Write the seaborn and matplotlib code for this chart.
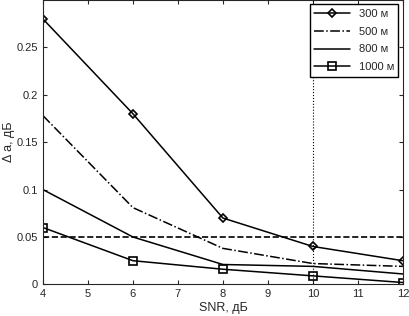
import pandas as pd
import matplotlib
matplotlib.use('Agg')
import matplotlib.pyplot as plt
import seaborn as sns

snr = [4, 6, 8, 10, 12]
d300 = [0.28, 0.18, 0.07, 0.04, 0.025]
d500 = [0.178, 0.081, 0.038, 0.022, 0.019]
d800 = [0.10, 0.05, 0.021, 0.019, 0.011]
d1000 = [0.06, 0.025, 0.016, 0.009, 0.002]
labels = ['300 м', '500 м', '800 м', '1000 м']

sns.set_style('ticks')
plt.rcParams['font.family'] = ['Liberation Sans', 'DejaVu Sans']
plt.rcParams['xtick.direction'] = 'in'
plt.rcParams['ytick.direction'] = 'in'

df = pd.DataFrame({'snr': snr * 4,
                   'val': d300 + d500 + d800 + d1000,
                   'dist': sum([[l] * 5 for l in labels], [])})

fig = plt.figure(figsize=(4.09, 3.16), dpi=100)
ax = fig.add_axes([0.105, 0.1, 0.88, 0.9])

styles = {'300 м': dict(ls='-', marker='D', ms=4.5),
          '500 м': dict(ls='-.', marker=None),
          '800 м': dict(ls='-', marker=None),
          '1000 м': dict(ls='-', marker='s', ms=6)}
for lab in labels:
    sub = df[df['dist'] == lab]
    st = styles[lab]
    sns.lineplot(data=sub, x='snr', y='val', ax=ax, color='black', lw=1.1,
                 linestyle=st['ls'], marker=st['marker'], markersize=st.get('ms', 0),
                 markerfacecolor='none', markeredgecolor='black', markeredgewidth=1.2,
                 label=lab)

ax.axhline(0.05, color='black', ls='--', lw=1.2)
ax.axvline(10, color='black', ls=':', lw=0.8)

ax.set_xlim(4, 12)
ax.set_ylim(0, 0.3)
ax.set_xticks(range(4, 13))
ax.set_yticks([0, 0.05, 0.1, 0.15, 0.2, 0.25])
ax.set_yticklabels(['0', '0.05', '0.1', '0.15', '0.2', '0.25'])
ax.tick_params(labelsize=8, top=True, right=True, length=3)
ax.set_xlabel('SNR, дБ', fontsize=9, labelpad=2)
ax.set_ylabel('Δ a, дБ', fontsize=9, labelpad=1)
ax.legend(loc='upper right', fontsize=8, frameon=True, fancybox=False,
          edgecolor='black', framealpha=1, handlelength=3.2, labelspacing=0.7,
          borderaxespad=0.4)

fig.savefig('out.png', dpi=100)
